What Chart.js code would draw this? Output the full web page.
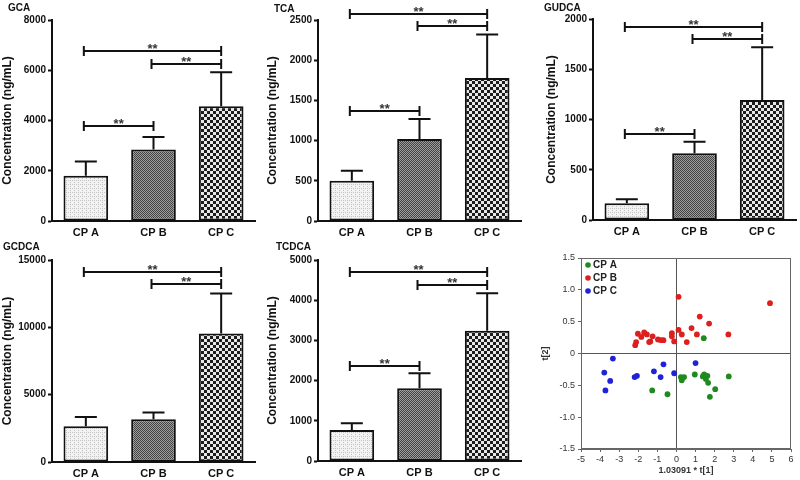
<!DOCTYPE html>
<html>
<head>
<meta charset="utf-8">
<script src="https://cdn.jsdelivr.net/npm/chart.js@4.4.1/dist/chart.umd.min.js"></script>
<style>
  body { margin: 0; background: #fff; }
  #wrap { position: relative; width: 800px; height: 480px; overflow: hidden; }
  canvas { position: absolute; }
</style>
</head>
<body>
<div id="wrap">
  <canvas id="gca" width="265" height="240" style="left:0;top:0"></canvas>
  <canvas id="tca" width="265" height="240" style="left:265px;top:0"></canvas>
  <canvas id="gudca" width="270" height="240" style="left:530px;top:0"></canvas>
  <canvas id="gcdca" width="265" height="240" style="left:0;top:240px"></canvas>
  <canvas id="tcdca" width="265" height="240" style="left:265px;top:240px"></canvas>
  <canvas id="pca" width="270" height="240" style="left:530px;top:240px"></canvas>
</div>
<script>
// groups
const groups = ['CP A', 'CP B', 'CP C'];

// bar heights (mean) and top of error bar, ng/mL
const gcaMean = [1800, 2850, 4570];
const gcaUpper = [2370, 3340, 5920];
const tcaMean = [500, 1020, 1780];
const tcaUpper = [625, 1270, 2320];
const gudcaMean = [166, 663, 1194];
const gudcaUpper = [206, 779, 1718];
const gcdcaMean = [2650, 3170, 9540];
const gcdcaUpper = [3350, 3670, 12520];
const tcdcaMean = [770, 1810, 3240];
const tcdcaUpper = [940, 2180, 4170];

// significance brackets: [from group, to group, height]
const gcaSig = [[0, 1, 3780], [1, 2, 6260], [0, 2, 6750]];
const tcaSig = [[0, 1, 1370], [1, 2, 2420], [0, 2, 2575]];
const gudcaSig = [[0, 1, 856], [1, 2, 1800], [0, 2, 1924]];
const gcdcaSig = [[1, 2, 13190], [0, 2, 14080]];
const tcdcaSig = [[0, 1, 2370], [1, 2, 4380], [0, 2, 4690]];

// y axis ranges
const gcaTicks = [0, 8000, 2000];
const tcaTicks = [0, 2500, 500];
const gudcaTicks = [0, 2000, 500];
const gcdcaTicks = [0, 15000, 5000];
const tcdcaTicks = [0, 5000, 1000];

// score plot t[1], t[2]
const cpaX = [1.43, 0.23, 0.40, 0.28, 0.96, 1.38, 1.45, 1.62, 1.54, 1.66, 2.03, 2.74, 1.75, -1.27, -0.47];
const cpaY = [0.24, -0.37, -0.37, -0.42, -0.33, -0.36, -0.33, -0.35, -0.40, -0.46, -0.56, -0.36, -0.68, -0.58, -0.64];
const cpbX = [0.11, 4.90, 1.22, 1.71, 0.79, 0.11, -0.24, 0.28, 1.07, 2.72, -0.24, -0.12, 0.54, -2.02, -1.69, -1.84, -1.55, -1.25, -0.97, -0.80, -1.37, -1.43, -2.11, -2.16, -0.68];
const cpbY = [0.89, 0.79, 0.58, 0.47, 0.40, 0.37, 0.32, 0.30, 0.30, 0.30, 0.27, 0.19, 0.18, 0.31, 0.33, 0.26, 0.30, 0.27, 0.22, 0.21, 0.19, 0.18, 0.18, 0.13, 0.21];
const cpcX = [-3.33, 1.00, -0.68, -3.78, -1.18, -0.12, -2.07, -2.19, -0.83, -3.47, -3.72];
const cpcY = [-0.08, -0.15, -0.17, -0.30, -0.28, -0.31, -0.35, -0.37, -0.37, -0.43, -0.58];

const FONT = 'Arial, "Liberation Sans", sans-serif';
const INK = '#111';

function makePattern(size, draw) {
    const c = document.createElement('canvas');
    c.width = size; c.height = size;
    const g = c.getContext('2d');
    draw(g);
    return g.createPattern(c, 'repeat');
}

// fills: light dots, fine grey check, coarse black/white check
const fills = [
    makePattern(4, g => {
        g.fillStyle = '#f2f2f2'; g.fillRect(0, 0, 4, 4);
        g.fillStyle = '#c4c4c4'; g.fillRect(0, 0, 1, 1); g.fillRect(2, 2, 1, 1); g.fillRect(2, 0, 1, 1);
    }),
    makePattern(2, g => {
        g.fillStyle = '#9c9c9c'; g.fillRect(0, 0, 2, 2);
        g.fillStyle = '#444'; g.fillRect(0, 0, 1, 1); g.fillRect(1, 1, 1, 1);
    }),
    makePattern(6, g => {
        g.fillStyle = '#e8e8e8'; g.fillRect(0, 0, 6, 6);
        g.fillStyle = '#1c1c1c'; g.fillRect(0, 0, 3, 3); g.fillRect(3, 3, 3, 3);
    })
];

// error bars, brackets and panel name
const barExtras = {
    id: 'barExtras',
    afterDatasetsDraw(chart, args, opts) {
        const ctx = chart.ctx;
        const y = chart.scales.y;
        const bars = chart.getDatasetMeta(0).data;
        ctx.save();
        ctx.strokeStyle = INK;
        ctx.lineWidth = 2;
        opts.upper.forEach((u, i) => {
            const x = bars[i].x;
            const top = y.getPixelForValue(u);
            ctx.beginPath();
            ctx.moveTo(x, bars[i].y);
            ctx.lineTo(x, top);
            ctx.moveTo(x - 11, top);
            ctx.lineTo(x + 11, top);
            ctx.stroke();
        });
        ctx.fillStyle = '#333';
        ctx.font = 'bold 13px ' + FONT;
        ctx.textAlign = 'center';
        ctx.textBaseline = 'alphabetic';
        opts.sig.forEach(s => {
            const x1 = bars[s[0]].x - 2, x2 = bars[s[1]].x;
            const yy = Math.round(y.getPixelForValue(s[2]));
            ctx.beginPath();
            ctx.moveTo(x1, yy); ctx.lineTo(x2, yy);
            ctx.moveTo(x1, yy - 5); ctx.lineTo(x1, yy + 5);
            ctx.moveTo(x2, yy - 5); ctx.lineTo(x2, yy + 5);
            ctx.stroke();
            ctx.fillText('**', (x1 + x2) / 2, yy + 2);
        });
        ctx.fillStyle = INK;
        ctx.font = 'bold 10px ' + FONT;
        ctx.textAlign = 'left';
        ctx.textBaseline = 'middle';
        ctx.fillText(opts.title, opts.titleX, opts.titleY);
        ctx.restore();
    }
};

function makeBar(id, title, mean, upper, sig, range, box) {
    new Chart(document.getElementById(id), {
        type: 'bar',
        data: {
            labels: groups,
            datasets: [{
                data: mean,
                backgroundColor: fills,
                borderColor: INK,
                borderWidth: 2,
                borderSkipped: false,
                barPercentage: 0.66,
                categoryPercentage: 1
            }]
        },
        options: {
            responsive: false,
            animation: false,
            devicePixelRatio: 1,
            layout: { padding: { left: box.padL, right: box.padR, top: box.top, bottom: 0 } },
            plugins: {
                legend: { display: false },
                tooltip: { enabled: false },
                barExtras: { upper: upper, sig: sig, title: title, titleX: box.titleX, titleY: box.titleY }
            },
            scales: {
                x: {
                    grid: { display: false, drawTicks: false },
                    border: { color: INK, width: 2 },
                    ticks: { color: INK, padding: 5, font: { family: FONT, size: 11, weight: 'bold' } },
                    afterFit: s => { s.height = box.xH; }
                },
                y: {
                    min: range[0],
                    max: range[1],
                    grid: { drawOnChartArea: false, tickLength: 4, tickColor: INK, tickWidth: 2 },
                    border: { color: INK, width: 2 },
                    ticks: {
                        stepSize: range[2],
                        color: INK,
                        padding: 2,
                        font: { family: FONT, size: 10, weight: 'bold' },
                        callback: v => String(v)
                    },
                    title: {
                        display: true,
                        text: 'Concentration (ng/mL)',
                        color: INK,
                        padding: box.tPad,
                        font: { family: FONT, size: 12, weight: 'bold' }
                    },
                    afterFit: s => { s.width = box.axisW; }
                }
            }
        },
        plugins: [barExtras]
    });
}

makeBar('gca', 'GCA', gcaMean, gcaUpper, gcaSig, gcaTicks,
    { padL: 0, axisW: 52, padR: 10, top: 20, xH: 19, tPad: 0, titleX: 8, titleY: 8 });
makeBar('tca', 'TCA', tcaMean, tcaUpper, tcaSig, tcaTicks,
    { padL: 0, axisW: 53, padR: 9, top: 20, xH: 19, tPad: 0, titleX: 9, titleY: 9 });
makeBar('gudca', 'GUDCA', gudcaMean, gudcaUpper, gudcaSig, gudcaTicks,
    { padL: 14, axisW: 49, padR: 4, top: 19, xH: 20, tPad: 0, titleX: 14, titleY: 8 });
makeBar('gcdca', 'GCDCA', gcdcaMean, gcdcaUpper, gcdcaSig, gcdcaTicks,
    { padL: 0, axisW: 52, padR: 10, top: 20, xH: 18, tPad: 0, titleX: 3, titleY: 7 });
makeBar('tcdca', 'TCDCA', tcdcaMean, tcdcaUpper, tcdcaSig, tcdcaTicks,
    { padL: 0, axisW: 53, padR: 9, top: 20, xH: 19, tPad: 0, titleX: 11, titleY: 7 });

// score plot: frame, legend
const scoreExtras = {
    id: 'scoreExtras',
    afterDraw(chart) {
        const ctx = chart.ctx;
        const a = chart.chartArea;
        ctx.save();
        ctx.strokeStyle = '#666';
        ctx.lineWidth = 1;
        ctx.strokeRect(a.left + 0.5, a.top + 0.5, a.right - a.left - 1, a.bottom - a.top - 1);
        ctx.font = 'bold 10px ' + FONT;
        ctx.textBaseline = 'middle';
        chart.data.datasets.forEach((ds, i) => {
            const ly = a.top + 7 + i * 13;
            ctx.fillStyle = ds.backgroundColor;
            ctx.beginPath();
            ctx.arc(a.left + 7, ly, 2.8, 0, Math.PI * 2);
            ctx.fill();
            ctx.fillStyle = '#222';
            ctx.fillText(ds.label, a.left + 12, ly);
        });
        ctx.restore();
    }
};

const toPoints = (xs, ys) => xs.map((x, i) => ({ x: x, y: ys[i] }));
const zeroLine = c => (c.tick && c.tick.value === 0) ? '#555' : 'rgba(0,0,0,0)';

new Chart(document.getElementById('pca'), {
    type: 'scatter',
    data: {
        datasets: [
            { label: 'CP A', data: toPoints(cpaX, cpaY), backgroundColor: '#1f8a1f', borderWidth: 0, pointRadius: 2.9 },
            { label: 'CP B', data: toPoints(cpbX, cpbY), backgroundColor: '#dd1f1f', borderWidth: 0, pointRadius: 2.9 },
            { label: 'CP C', data: toPoints(cpcX, cpcY), backgroundColor: '#1f22d6', borderWidth: 0, pointRadius: 2.9 }
        ]
    },
    options: {
        responsive: false,
        animation: false,
        devicePixelRatio: 1,
        layout: { padding: { left: 10, right: 9, top: 18, bottom: 0 } },
        plugins: { legend: { display: false }, tooltip: { enabled: false } },
        scales: {
            x: {
                min: -5, max: 6,
                grid: { color: zeroLine, tickColor: '#666', tickLength: 3 },
                border: { color: '#666' },
                ticks: { stepSize: 1, color: '#333', padding: 2, font: { family: FONT, size: 9 } },
                title: { display: true, text: '1.03091 * t[1]', color: '#333', padding: { top: 2 }, font: { family: FONT, size: 9, weight: 'bold' } },
                afterFit: s => { s.height = 31; }
            },
            y: {
                min: -1.5, max: 1.5,
                grid: { color: zeroLine, tickColor: '#666', tickLength: 3 },
                border: { color: '#666' },
                ticks: { stepSize: 0.5, color: '#333', padding: 3, font: { family: FONT, size: 9 } },
                title: { display: true, text: 't[2]', color: '#333', padding: 0, font: { family: FONT, size: 9, weight: 'bold' } },
                afterFit: s => { s.width = 41; }
            }
        }
    },
    plugins: [scoreExtras]
});
</script>
</body>
</html>
